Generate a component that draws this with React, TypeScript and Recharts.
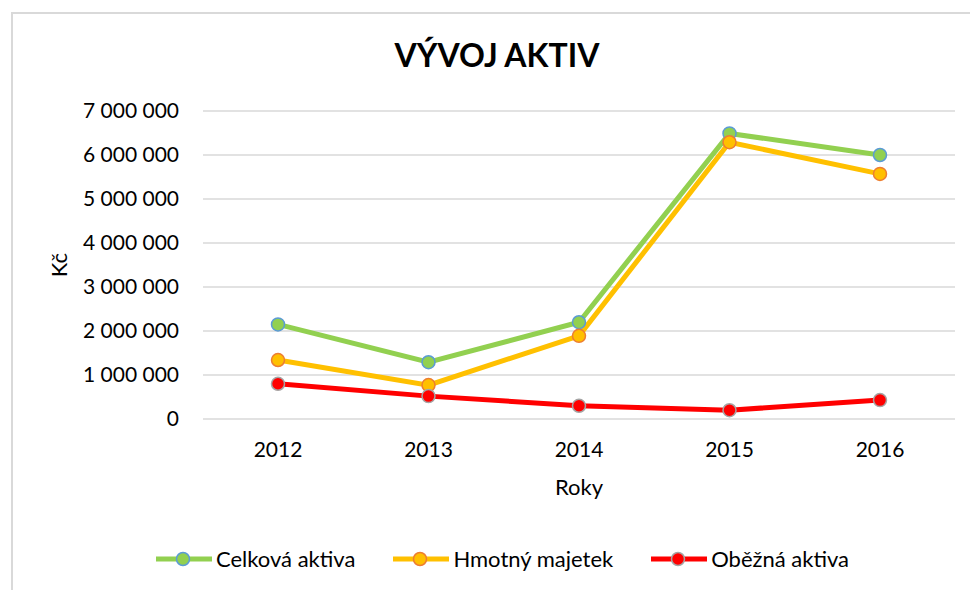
import React from 'react';
import { LineChart, Line, XAxis, YAxis, CartesianGrid } from 'recharts';

const years = ['2012', '2013', '2014', '2015', '2016'];
const celkovaAktiva = [2150000, 1290000, 2200000, 6490000, 6000000];
const hmotnyMajetek = [1340000, 770000, 1890000, 6290000, 5570000];
const obeznaAktiva = [800000, 520000, 300000, 200000, 430000];
const yTicks = [0, 1000000, 2000000, 3000000, 4000000, 5000000, 6000000, 7000000];

const seriesNames = ['Celková aktiva', 'Hmotný majetek', 'Oběžná aktiva'];

const data = years.map((y, i) => ({
  year: y,
  celkova: celkovaAktiva[i],
  hmotny: hmotnyMajetek[i],
  obezna: obeznaAktiva[i],
}));

const FONT = 'Lato, "Open Sans", sans-serif';

const fmt = (v: number) => String(v).replace(/\B(?=(\d{3})+(?!\d))/g, ' ');

const legendItems = [
  { name: seriesNames[0], line: '#92D050', fill: '#92D050', stroke: '#5B9BD5' },
  { name: seriesNames[1], line: '#FFC000', fill: '#FFC000', stroke: '#ED7D31' },
  { name: seriesNames[2], line: '#FF0000', fill: '#FF0000', stroke: '#A5A5A5' },
];

const LegendBlock = () => (
  <div
    style={{
      position: 'absolute',
      left: 156,
      top: 545,
      display: 'flex',
      alignItems: 'center',
      fontFamily: FONT,
      fontSize: 22,
      color: '#000',
      whiteSpace: 'nowrap',
    }}
  >
    {legendItems.map((it, i) => (
      <div key={it.name} style={{ display: 'flex', alignItems: 'center', marginRight: i < 2 ? 38 : 0 }}>
        <svg width={56} height={20} style={{ marginRight: 4 }}>
          <line x1={0} y1={10} x2={56} y2={10} stroke={it.line} strokeWidth={5} />
          <circle cx={27} cy={10} r={6.5} fill={it.fill} stroke={it.stroke} strokeWidth={1.5} />
        </svg>
        <span>{it.name}</span>
      </div>
    ))}
  </div>
);

export default function App() {
  return (
    <div style={{ position: 'absolute', left: 0, top: 0, width: 970, height: 590, background: '#fff', overflow: 'hidden' }}>
      <div
        style={{
          position: 'absolute',
          left: 11,
          top: 12,
          width: 1000,
          height: 620,
          borderLeft: '2px solid #d9d9d9',
          borderTop: '2px solid #d9d9d9',
        }}
      />
      <div style={{ position: 'absolute', left: 0, top: 0 }}>
        <LineChart
          width={970}
          height={590}
          data={data}
          margin={{ top: 111, right: 15, bottom: 71, left: 0 }}
        >
          <text
            x={497}
            y={67}
            textAnchor="middle"
            fontFamily={FONT}
            fontSize={32}
            fontWeight={700}
            fill="#000"
          >
            VÝVOJ AKTIV
          </text>
          <CartesianGrid horizontal vertical={false} stroke="#d9d9d9" strokeWidth={1.5} />
          <XAxis
            dataKey="year"
            axisLine={false}
            tickLine={false}
            tickSize={0}
            tickMargin={23}
            padding={{ left: 75, right: 75 }}
            height={100}
            interval={0}
            tick={{ fontFamily: FONT, fontSize: 21, fill: '#000' }}
            label={{
              content: (props: any) => {
                const vb = props.viewBox || {};
                const cx = (vb.x || 0) + (vb.width || 0) / 2;
                return (
                  <text x={cx} y={495} textAnchor="middle" fontFamily={FONT} fontSize={22} fill="#000">
                    Roky
                  </text>
                );
              },
            }}
          />
          <YAxis
            domain={[0, 7000000]}
            ticks={yTicks}
            interval={0}
            width={203}
            axisLine={false}
            tickLine={false}
            tickSize={0}
            tickMargin={24}
            tickFormatter={fmt}
            tick={{ fontFamily: FONT, fontSize: 21, fill: '#000' }}
            label={{
              content: (props: any) => {
                const vb = props.viewBox || {};
                const cy = (vb.y || 0) + (vb.height || 0) / 2;
                return (
                  <text
                    x={58}
                    y={cy}
                    transform={`rotate(-90 58 ${cy})`}
                    textAnchor="middle"
                    dominantBaseline="central"
                    fontFamily={FONT}
                    fontSize={22}
                    fill="#000"
                  >
                    Kč
                  </text>
                );
              },
            }}
          />
          <Line
            type="linear"
            dataKey="celkova"
            name={seriesNames[0]}
            stroke="#92D050"
            strokeWidth={5}
            dot={{ r: 6.5, fill: '#92D050', stroke: '#5B9BD5', strokeWidth: 1.5 }}
            activeDot={false}
            isAnimationActive={false}
          />
          <Line
            type="linear"
            dataKey="hmotny"
            name={seriesNames[1]}
            stroke="#FFC000"
            strokeWidth={5}
            dot={{ r: 6.5, fill: '#FFC000', stroke: '#ED7D31', strokeWidth: 1.5 }}
            activeDot={false}
            isAnimationActive={false}
          />
          <Line
            type="linear"
            dataKey="obezna"
            name={seriesNames[2]}
            stroke="#FF0000"
            strokeWidth={5}
            dot={{ r: 6.5, fill: '#FF0000', stroke: '#A5A5A5', strokeWidth: 1.5 }}
            activeDot={false}
            isAnimationActive={false}
          />
        </LineChart>
      </div>
      <LegendBlock />
    </div>
  );
}
